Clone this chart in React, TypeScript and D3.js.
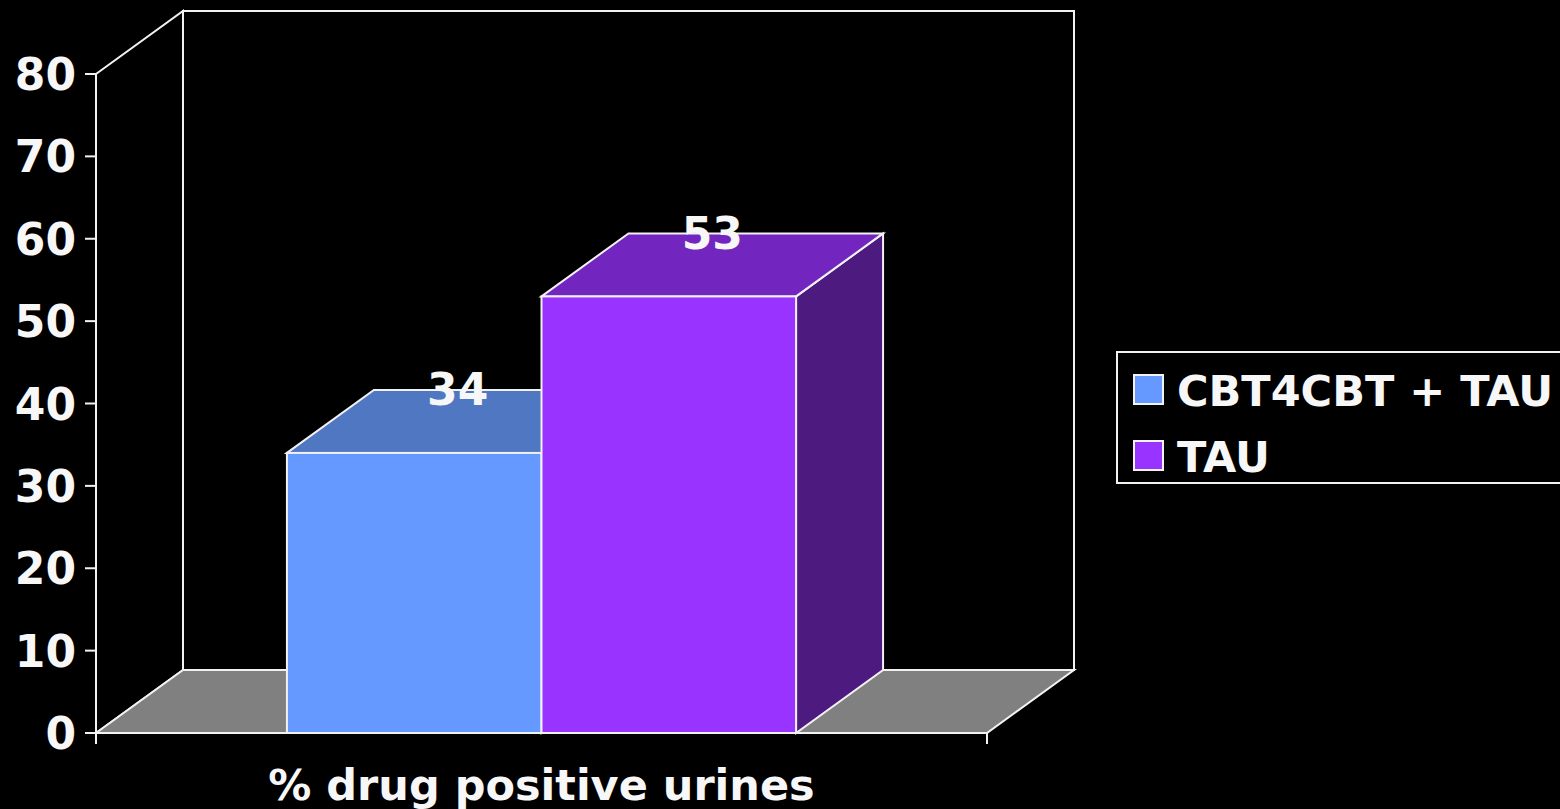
import React from "react";
import * as d3 from "d3";

const categories = ["% drug positive urines"];
const seriesNames = ["CBT4CBT + TAU", "TAU"];
const seriesValues = [34, 53];
const yTicks = [0, 10, 20, 30, 40, 50, 60, 70, 80];

const frontColors = ["#6699FF", "#9933FF"];
const topColors = ["#4F77C2", "#7326BF"];
const sideColors = ["#3D5C99", "#4D1A7F"];

const W = 1560;
const H = 809;
const X0 = 96;
const X1 = 987;
const DX = 87;
const DY = -63;
const FONT = "'DejaVu Sans', Verdana, sans-serif";
const LINE = "#F2F2F2";

export default function App() {
  const y = d3.scaleLinear().domain([0, 80]).range([733, 74]);
  const xCat = d3.scaleBand().domain(categories).range([X0, X1]).padding(0);
  const xSer = d3
    .scaleBand()
    .domain(seriesNames)
    .range([0, xCat.bandwidth()])
    .paddingInner(0)
    .paddingOuter(0.75);

  const y0 = y(0);
  const pts = (arr: number[][]) => arr.map((p) => p.join(",")).join(" ");

  return (
    <svg
      width={W}
      height={H}
      style={{ position: "absolute", left: 0, top: 0, background: "#000" }}
    >
      <rect x={0} y={0} width={W} height={H} fill="#000" />
      {/* back wall */}
      <rect
        x={X0 + DX}
        y={y(80) + DY}
        width={X1 - X0}
        height={y0 - y(80)}
        fill="#000"
        stroke={LINE}
        strokeWidth={2}
      />
      {/* side wall */}
      <polygon
        points={pts([
          [X0, y(80)],
          [X0 + DX, y(80) + DY],
          [X0 + DX, y0 + DY],
          [X0, y0],
        ])}
        fill="#000"
        stroke={LINE}
        strokeWidth={2}
      />
      {/* floor */}
      <polygon
        points={pts([
          [X0, y0],
          [X0 + DX, y0 + DY],
          [X1 + DX, y0 + DY],
          [X1, y0],
        ])}
        fill="#808080"
        stroke={LINE}
        strokeWidth={2}
      />
      {/* bars */}
      {categories.map((c) =>
        seriesNames.map((s, i) => {
          const bx = (xCat(c) as number) + (xSer(s) as number);
          const bw = xSer.bandwidth();
          const v = seriesValues[i];
          const ty = y(v);
          return (
            <g key={s}>
              <polygon
                points={pts([
                  [bx + bw, ty],
                  [bx + bw + DX, ty + DY],
                  [bx + bw + DX, y0 + DY],
                  [bx + bw, y0],
                ])}
                fill={sideColors[i]}
                stroke={LINE}
                strokeWidth={2}
              />
              <polygon
                points={pts([
                  [bx, ty],
                  [bx + DX, ty + DY],
                  [bx + bw + DX, ty + DY],
                  [bx + bw, ty],
                ])}
                fill={topColors[i]}
                stroke={LINE}
                strokeWidth={2}
              />
              <rect
                x={bx}
                y={ty}
                width={bw}
                height={y0 - ty}
                fill={frontColors[i]}
                stroke={LINE}
                strokeWidth={2}
              />
            </g>
          );
        })
      )}
      {/* value labels */}
      {categories.map((c) =>
        seriesNames.map((s, i) => {
          const bx = (xCat(c) as number) + (xSer(s) as number);
          const bw = xSer.bandwidth();
          const ty = y(seriesValues[i]);
          return (
            <text
              key={"l" + s}
              x={bx + bw / 2 + DX / 2}
              y={ty + DY / 2 - 16}
              textAnchor="middle"
              fill="#F7F7F7"
              fontFamily={FONT}
              fontWeight="bold"
              fontSize={44}
            >
              {seriesValues[i]}
            </text>
          );
        })
      )}
      {/* y axis */}
      <line x1={X0} x2={X0} y1={y(80)} y2={y0 + 11} stroke={LINE} strokeWidth={2} />
      <line x1={X0} x2={X1} y1={y0} y2={y0} stroke={LINE} strokeWidth={2} />
      <line x1={X1} x2={X1} y1={y0} y2={y0 + 11} stroke={LINE} strokeWidth={2} />
      {yTicks.map((t) => (
        <g key={t}>
          <line x1={X0 - 11} x2={X0} y1={y(t)} y2={y(t)} stroke={LINE} strokeWidth={2} />
          <text
            x={X0 - 20}
            y={y(t) + 16}
            textAnchor="end"
            fill="#F7F7F7"
            fontFamily={FONT}
            fontWeight="bold"
            fontSize={44}
          >
            {t}
          </text>
        </g>
      ))}
      {/* category label */}
      {categories.map((c) => (
        <text
          key={c}
          x={(xCat(c) as number) + xCat.bandwidth() / 2}
          y={800}
          textAnchor="middle"
          fill="#F7F7F7"
          fontFamily={FONT}
          fontWeight="bold"
          fontSize={43}
        >
          {c}
        </text>
      ))}
      {/* legend */}
      <rect x={1117} y={352} width={480} height={131} fill="#000" stroke={LINE} strokeWidth={2} />
      {seriesNames.map((s, i) => (
        <g key={"lg" + s}>
          <rect
            x={1134}
            y={375 + i * 66}
            width={29}
            height={29}
            fill={frontColors[i]}
            stroke={LINE}
            strokeWidth={2}
          />
          <text
            x={1177}
            y={406 + i * 66}
            fill="#F7F7F7"
            fontFamily={FONT}
            fontWeight="bold"
            fontSize={43}
          >
            {s}
          </text>
        </g>
      ))}
    </svg>
  );
}
